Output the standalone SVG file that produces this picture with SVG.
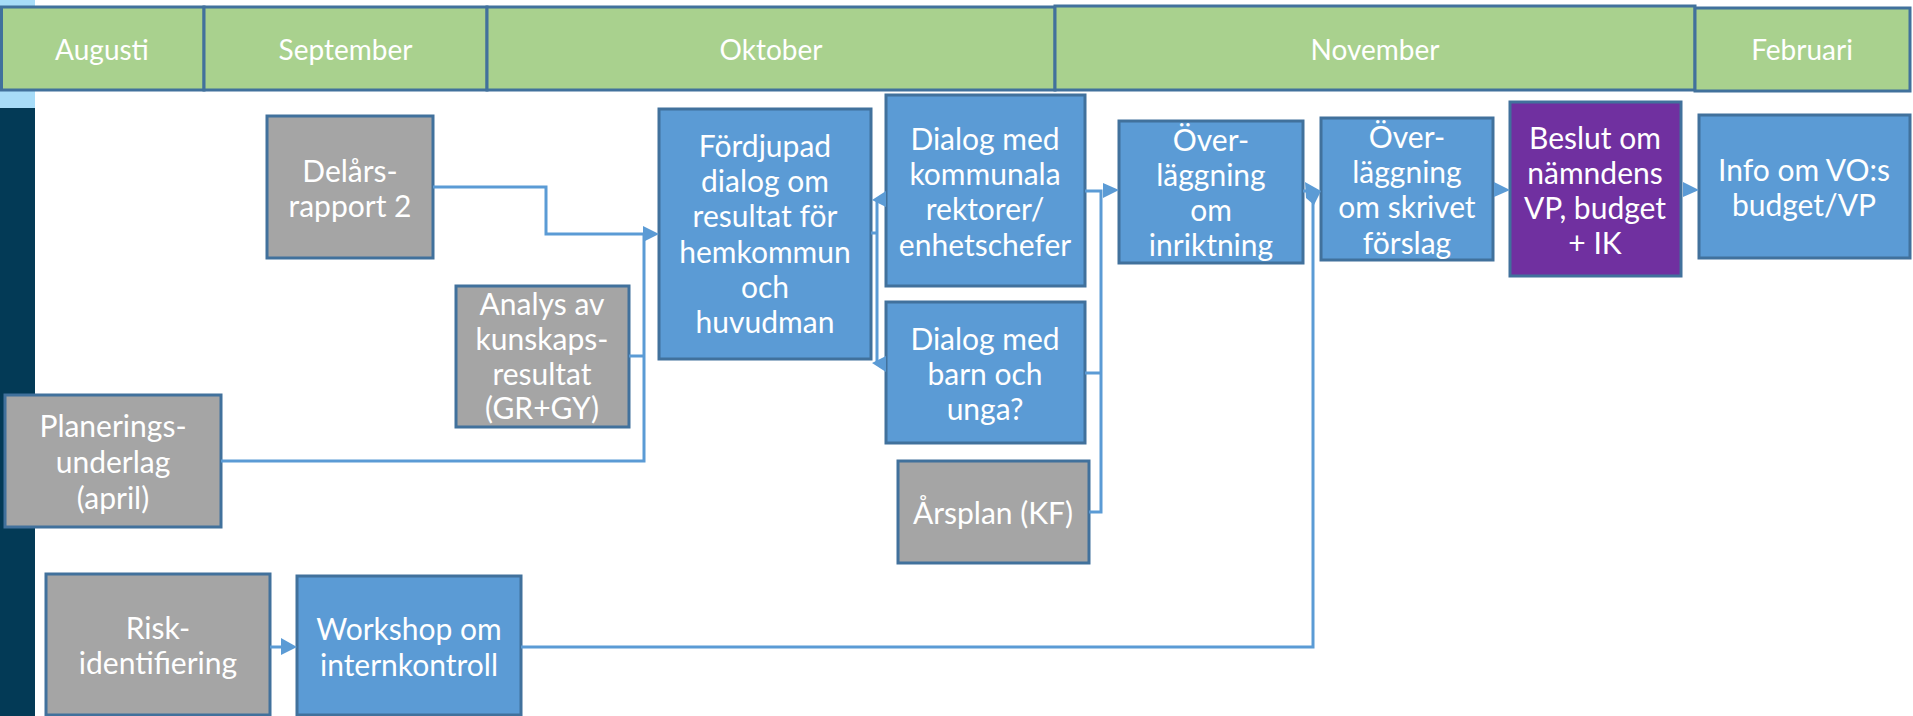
<svg xmlns="http://www.w3.org/2000/svg" width="1913" height="716" viewBox="0 0 1913 716">
<style>
  .month { fill: #a9d18e; stroke: #41719c; stroke-width: 3; }
  .mtxt { font-family: Lato, "Liberation Sans", sans-serif; font-size: 28px; fill: #ffffff; text-anchor: middle; }
  .blue { fill: #5b9bd5; stroke: #41719c; stroke-width: 3; }
  .gray { fill: #a5a5a5; stroke: #41719c; stroke-width: 3; }
  .purple { fill: #7030a0; stroke: #41719c; stroke-width: 3; }
  .ntxt { font-family: Lato, "Liberation Sans", sans-serif; font-size: 30px; fill: #ffffff; text-anchor: middle; }
  .conn { fill: none; stroke: #5b9bd5; stroke-width: 3; }
  .head { fill: #5b9bd5; stroke: none; }
</style>
<rect x="0" y="0" width="1913" height="716" fill="#ffffff"/>
<rect x="0" y="0" width="35" height="108" fill="#a7dcf8"/>
<rect x="0" y="108" width="35" height="608" fill="#033a56"/>

<g id="months">
  <g id="m-augusti"><rect class="month" x="1.5" y="7" width="202.5" height="83"/><text class="mtxt" x="102" y="60">Augusti</text></g>
  <g id="m-september"><rect class="month" x="204" y="7" width="283" height="83"/><text class="mtxt" x="345.5" y="60">September</text></g>
  <g id="m-oktober"><rect class="month" x="487" y="7" width="568" height="83"/><text class="mtxt" x="771" y="60">Oktober</text></g>
  <g id="m-november"><rect class="month" x="1055" y="6" width="640" height="84"/><text class="mtxt" x="1375" y="60">November</text></g>
  <g id="m-februari"><rect class="month" x="1695" y="8" width="215" height="83"/><text class="mtxt" x="1802" y="60">Februari</text></g>
</g>

<g id="n-delars"><rect class="gray" x="267" y="116" width="166" height="142"/>
  <text class="ntxt" x="350" y="182">Delårs-</text><text class="ntxt" x="350" y="217">rapport 2</text></g>
<g id="n-analys"><rect class="gray" x="456" y="286" width="173" height="141"/>
  <text class="ntxt" x="542" y="315">Analys av</text><text class="ntxt" x="542" y="350">kunskaps-</text><text class="ntxt" x="542" y="385">resultat</text><text class="ntxt" x="542" y="419">(GR+GY)</text></g>
<g id="n-planerings"><rect class="gray" x="5" y="395" width="216" height="132"/>
  <text class="ntxt" x="113" y="437">Planerings-</text><text class="ntxt" x="113" y="473">underlag</text><text class="ntxt" x="113" y="509">(april)</text></g>
<g id="n-risk"><rect class="gray" x="46" y="574" width="224" height="141"/>
  <text class="ntxt" x="158" y="639">Risk-</text><text class="ntxt" x="158" y="674">identifiering</text></g>
<g id="n-workshop"><rect class="blue" x="297" y="576" width="224" height="139"/>
  <text class="ntxt" x="409" y="640">Workshop om</text><text class="ntxt" x="409" y="676">internkontroll</text></g>
<g id="n-fordjupad"><rect class="blue" x="659" y="109" width="212" height="250"/>
  <text class="ntxt" x="765" y="157">Fördjupad</text><text class="ntxt" x="765" y="192">dialog om</text><text class="ntxt" x="765" y="227">resultat för</text><text class="ntxt" x="765" y="263">hemkommun</text><text class="ntxt" x="765" y="298">och</text><text class="ntxt" x="765" y="333">huvudman</text></g>
<g id="n-dialog-kommunala"><rect class="blue" x="886" y="95" width="199" height="191"/>
  <text class="ntxt" x="985" y="150">Dialog med</text><text class="ntxt" x="985" y="185">kommunala</text><text class="ntxt" x="985" y="220">rektorer/</text><text class="ntxt" x="985" y="256">enhetschefer</text></g>
<g id="n-dialog-barn"><rect class="blue" x="886" y="302" width="199" height="141"/>
  <text class="ntxt" x="985" y="350">Dialog med</text><text class="ntxt" x="985" y="385">barn och</text><text class="ntxt" x="985" y="420">unga?</text></g>
<g id="n-arsplan"><rect class="gray" x="898" y="461" width="191" height="102"/>
  <text class="ntxt" x="993" y="524">Årsplan (KF)</text></g>
<g id="n-over-inriktning"><rect class="blue" x="1119" y="121" width="184" height="142"/>
  <text class="ntxt" x="1211" y="151">Över-</text><text class="ntxt" x="1211" y="186">läggning</text><text class="ntxt" x="1211" y="221">om</text><text class="ntxt" x="1211" y="256">inriktning</text></g>
<g id="n-over-skrivet"><rect class="blue" x="1321" y="118" width="172" height="142"/>
  <text class="ntxt" x="1407" y="148">Över-</text><text class="ntxt" x="1407" y="183">läggning</text><text class="ntxt" x="1407" y="218">om skrivet</text><text class="ntxt" x="1407" y="254">förslag</text></g>
<g id="n-beslut"><rect class="purple" x="1510" y="102" width="171" height="174"/>
  <text class="ntxt" x="1595" y="149">Beslut om</text><text class="ntxt" x="1595" y="184">nämndens</text><text class="ntxt" x="1595" y="219">VP, budget</text><text class="ntxt" x="1595" y="254">+ IK</text></g>
<g id="n-info"><rect class="blue" x="1699" y="115" width="211" height="143"/>
  <text class="ntxt" x="1804" y="181">Info om VO:s</text><text class="ntxt" x="1804" y="216">budget/VP</text></g>

<g id="connectors">
  <polyline class="conn" points="433,187 546,187 546,234 645,234"/>
  <polyline class="conn" points="629,356 644,356"/>
  <polyline class="conn" points="221,461 644,461 644,234"/>
  <polygon class="head" points="643,226 643,242 659,234"/>

  <polyline class="conn" points="871,233 877,233"/>
  <polyline class="conn" points="877,200 877,363"/>
  <polygon class="head" points="872,200 886,191 886,207"/>
  <polygon class="head" points="872,363 886,356 886,372"/>

  <polyline class="conn" points="1085,191 1101,191 1101,512 1089,512"/>
  <polyline class="conn" points="1085,373 1101,373"/>
  <polygon class="head" points="1103,183 1103,198 1119,190"/>

  <polyline class="conn" points="1303,191 1307,191"/>
  <polyline class="conn" points="521,647 1313,647 1313,198"/>
  <polygon class="head" points="1305,182 1321,191 1314,205 1306,198"/>

  <polygon class="head" points="1494,182 1494,197 1510,190"/>
  <polygon class="head" points="1683,182 1683,197 1699,190"/>

  <polyline class="conn" points="270,647 282,647"/>
  <polygon class="head" points="281,638 281,655 297,647"/>
</g>
</svg>
